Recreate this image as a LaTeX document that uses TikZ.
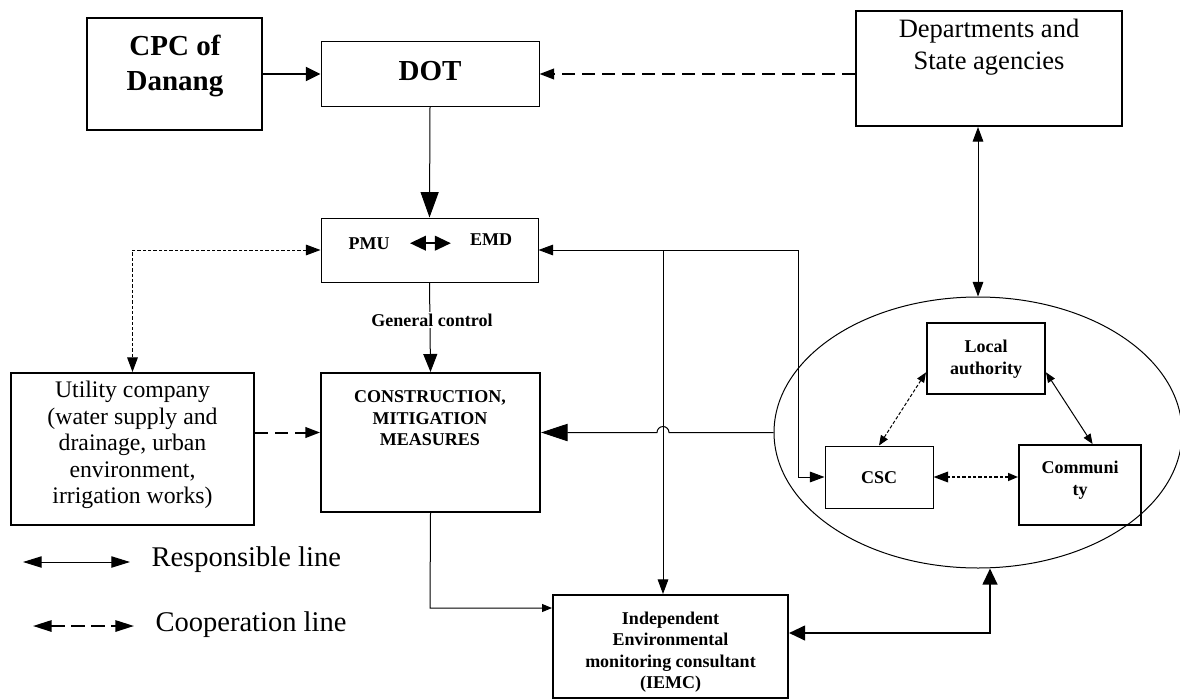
\documentclass[tikz,border=0pt]{standalone}
\usepackage{fontspec}
\setmainfont{Liberation Serif}
\usetikzlibrary{arrows.meta,fit,shapes.geometric,calc}

\tikzset{every picture/.style={line width=0.75pt}}
\tikzset{
  cpctri/.tip={Triangle[length=11pt,width=10.5pt]},
  bigtri/.tip={Triangle[length=19pt,width=13.5pt]},
  hugetri/.tip={Triangle[length=20pt,width=13pt]},
  gentri/.tip={Triangle[length=13.5pt,width=10.5pt]},
  thicktri/.tip={Triangle[length=12pt,width=11pt]},
  midtri/.tip={Triangle[length=11pt,width=8pt]},
  smalltri/.tip={Triangle[length=7.5pt,width=6pt]},
  legtri/.tip={Triangle[length=14pt,width=8.5pt]},
  thinbox/.style={draw, rectangle, inner sep=0pt, line width=0.75pt},
  thickbox/.style={draw, rectangle, inner sep=0pt, line width=1.5pt},
  resp/.style={line width=0.75pt},
  coop/.style={line width=1.5pt, dash pattern=on 10pt off 5pt},
  dotline/.style={line width=0.75pt, dash pattern=on 2.5pt off 1.5pt},
  bigbold/.style={font=\bfseries\fontsize{21.75}{26.25}\selectfont, align=center, inner sep=0pt},
  smallbold/.style={font=\bfseries\fontsize{13.5}{16.2}\selectfont, align=center, inner sep=0pt},
  depttext/.style={font=\fontsize{19.9}{24}\selectfont, align=center, inner sep=0pt},
  utiltext/.style={font=\fontsize{17.8}{19.8}\selectfont, align=center, inner sep=0pt},
  legtext/.style={font=\fontsize{21.4}{25}\selectfont, inner sep=0pt}
}

\begin{document}
\begin{tikzpicture}[x=0.75pt,y=0.75pt,yscale=-1,xscale=1]
\useasboundingbox (0,0) rectangle (1180,699);

%Shape: Rectangle
\node [thinbox, line width=1pt, fit={(87,18) (262,130)}] (cpc) {};
\node [thinbox, fit={(321,42) (539,106)}] (dot) {};
\node [thickbox, fit={(856,11) (1122,126)}] (dept) {};
\node [thinbox, fit={(321,218) (538,282)}] (pmu) {};
\node [thickbox, fit={(11,373) (254,525)}] (utility) {};
\node [thickbox, fit={(321,373) (540,512)}] (constr) {};
\node [thickbox, fit={(553,595) (788,698)}] (iemc) {};
\node [thickbox, fit={(927,323) (1045,394)}] (local) {};
\node [thinbox, fit={(825,446) (933,508)}] (csc) {};
\node [thickbox, fit={(1019,445) (1141,525)}] (comm) {};
%Shape: Ellipse
\node [draw, ellipse, inner sep=0pt, minimum width=306pt, minimum height=203.25pt] (group) at (978,432.5) {};

\coordinate (split) at (663,250);
\coordinate (cscbend) at (798,477);
\coordinate (ibend) at (430,608);
\coordinate (icorner) at (990,633);

% Text Node
\node [bigbold, anchor=north] (cpctext) at (175,35) {CPC of\\Danang};
% Text Node
\node [bigbold, anchor=base] (dottext) at (430,80) {DOT};
% Text Node
\node [depttext, anchor=north] (depttxt) at (989,18.5) {Departments and\\State agencies};
% Text Node
\node [smallbold, anchor=base] (pmutext) at (369,249) {PMU};
% Text Node
\node [smallbold, anchor=base] (emdtext) at (491,245) {EMD};
% Text Node
\node [utiltext, anchor=north] (utiltxt) at (132.5,381) {Utility company\\(water supply and\\drainage, urban\\environment,\\irrigation works)};
% Text Node
\node [smallbold, anchor=north] (constrtext) at (430,390) {CONSTRUCTION,\\MITIGATION\\MEASURES};
% Text Node
\node [smallbold, anchor=north] (iemctext) at (670.5,611) {Independent\\Environmental\\monitoring consultant\\(IEMC)};
% Text Node
\node [smallbold, anchor=north] (localtext) at (986,340) {Local\\authority};
% Text Node
\node [smallbold, anchor=base] (csctext) at (879,483) {CSC};
% Text Node
\node [smallbold, anchor=north] (commtext) at (1080,461) {Communi\\ty};

%Straight Lines
\draw [line width=1.5pt, -cpctri] (cpc.east) -- (dot.west);
\draw [coop, -midtri] (dept.west |- dot.east) -- (dot.east);
\draw [resp, -bigtri] (dot.south) -- (pmu.north);
\draw [resp, midtri-midtri] (dept.south -| group.north) -- (group.north);
\draw [line width=1.5pt, thicktri-thicktri, shorten <=15pt, shorten >=14pt] (pmutext.east) -- (pmutext.east -| emdtext.west);
\draw [dotline, midtri-midtri] (pmu.west) -| (utility.north);
\draw [resp, -gentri] (pmu.south) -- (constr.north);
\draw [coop, -midtri] (utility.east |- group.west) -- (constr.west |- group.west);
\draw [resp, -hugetri] (group.west) -- ($(split |- group.west)+(6,0)$) arc [start angle=0, end angle=-180, radius=6] -- (constr.east |- group.west);
\draw [resp, midtri-midtri] (pmu.east) -| (cscbend) -- (csc.west);
\draw [resp, -midtri] (split) -- (split |- iemc.north);
\draw [resp, -smalltri] (constr.south) -- (ibend) -- (ibend -| iemc.west);
\draw [line width=1.5pt, thicktri-thicktri] (iemc.east |- icorner) -- (icorner) -- (icorner |- group.south);
\draw [dotline, smalltri-smalltri] (local.193) -- (csc.north);
\draw [resp, smalltri-smalltri] (local.347) -- (comm.73);
\draw [dotline, line width=1.2pt, smalltri-midtri] (comm.west |- csc.east) -- (csc.east);

% Text Node
\node [smallbold, anchor=base, fill=white, inner sep=1pt] (gctrl) at (432,326) {General control};

%Legend
\coordinate (respA) at (23,562);
\coordinate (respB) at (130,562);
\draw [resp, legtri-legtri] (respA) -- (respB);
\node [legtext, anchor=base west] (resplab) at (151,566) {Responsible line};
\coordinate (coopA) at (33,626);
\coordinate (coopB) at (134,626);
\draw [coop, legtri-legtri] (coopA) -- (coopB);
\node [legtext, anchor=base west] (cooplab) at (155,631) {Cooperation line};

\end{tikzpicture}
\end{document}
